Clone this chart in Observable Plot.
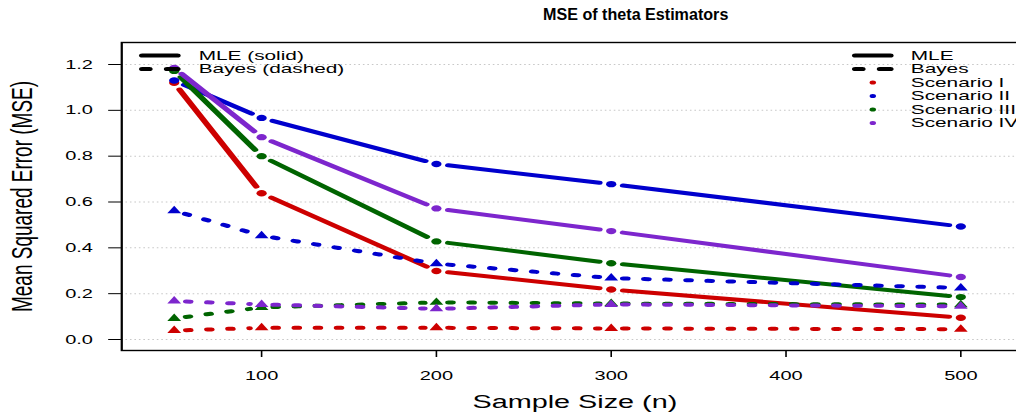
<!DOCTYPE html>
<html>
<head>
<meta charset="utf-8">
<script src="https://cdn.jsdelivr.net/npm/d3@7"></script>
<script src="https://cdn.jsdelivr.net/npm/@observablehq/plot@0.6"></script>
<style>
  html, body { margin: 0; padding: 0; overflow: hidden; background: #fff; }
  /* the figure is drawn narrow and widened horizontally */
  #chart svg { display: block; transform: scaleX(1.6); transform-origin: 0 0; }
</style>
</head>
<body>
<div id="chart"></div>
<script>
// Sample sizes and MSE of the two estimators under four scenarios
const sampleSizes = [50, 100, 200, 300, 500];
const scenarios = ["Scenario I", "Scenario II", "Scenario III", "Scenario IV"];
const scenarioColors = ["#CD0000", "#0000CD", "#006400", "#7D26CD"];

const mleI   = [1.120, 0.638, 0.299, 0.218, 0.095];
const mleII  = [1.130, 0.967, 0.766, 0.678, 0.493];
const mleIII = [1.172, 0.800, 0.428, 0.333, 0.185];
const mleIV  = [1.185, 0.883, 0.572, 0.473, 0.273];

const bayesI   = [0.039, 0.051, 0.051, 0.048, 0.045];
const bayesII  = [0.562, 0.453, 0.331, 0.268, 0.225];
const bayesIII = [0.092, 0.140, 0.162, 0.157, 0.152];
const bayesIV  = [0.168, 0.153, 0.134, 0.153, 0.145];

const xTicks = [100, 200, 300, 400, 500];
const yTicks = [0, 0.2, 0.4, 0.6, 0.8, 1.0, 1.2];

const title = "MSE of theta Estimators";
const xLabel = "Sample Size (n)";
const yLabel = "Mean Squared Error (MSE)";
const methodLegend = ["MLE (solid)", "Bayes (dashed)"];
const keyLegend = ["MLE", "Bayes"];

const mleSeries = [mleI, mleII, mleIII, mleIV];
const bayesSeries = [bayesI, bayesII, bayesIII, bayesIV];

// long-format points and consecutive segments for each series
function toPoints(seriesList) {
  return seriesList.flatMap((vals, s) =>
    sampleSizes.map((n, i) => ({n, v: vals[i], scenario: scenarios[s]})));
}
function toSegments(seriesList) {
  return seriesList.flatMap((vals, s) =>
    d3.pairs(sampleSizes.map((n, i) => ({n, v: vals[i]})))
      .map(([a, b]) => ({x1: a.n, y1: a.v, x2: b.n, y2: b.v, scenario: scenarios[s]})));
}
const mlePoints = toPoints(mleSeries);
const bayesPoints = toPoints(bayesSeries);
const mleSegments = toSegments(mleSeries);
const bayesSegments = toSegments(bayesSeries);

const lineWidth = 4;
const gap = 7.5;
const dash = "2.6,10.6";

// legend line samples drawn as symbols
const solidSample = {draw(ctx) { ctx.moveTo(-11, 0); ctx.lineTo(11, 0); }};
const dashedSample = {draw(ctx) { ctx.moveTo(-11, 0); ctx.lineTo(-6.5, 0); ctx.moveTo(4.5, 0); ctx.lineTo(11, 0); }};

const rowTop = 13, rowStep = 13.5;
const legendFont = 13;

const marks = [
  Plot.ruleY(yTicks, {stroke: "#c8c8c8", strokeWidth: 1, strokeDasharray: "1,1.8"}),
  // MLE: solid lines with gaps around filled circles
  Plot.arrow(mleSegments, {x1: "x1", y1: "y1", x2: "x2", y2: "y2", stroke: "scenario",
    strokeWidth: lineWidth, headLength: 0, insetStart: gap, insetEnd: gap, strokeLinecap: "round"}),
  Plot.dot(mlePoints, {x: "n", y: "v", fill: "scenario", r: 3.2, symbol: "circle"}),
  // Bayes: dashed lines with gaps around filled triangles
  Plot.arrow(bayesSegments, {x1: "x1", y1: "y1", x2: "x2", y2: "y2", stroke: "scenario",
    strokeWidth: lineWidth, headLength: 0, insetStart: gap, insetEnd: gap,
    strokeDasharray: dash, strokeLinecap: "round"}),
  Plot.dot(bayesPoints, {x: "n", y: "v", fill: "scenario", r: 3.2, symbol: "triangle"}),
  Plot.frame({stroke: "black", strokeWidth: 1.4}),
  // titles
  Plot.text([title], {text: d => d, frameAnchor: "top", lineAnchor: "middle", dx: 39, dy: -28,
    fontSize: 16, fontWeight: "bold"}),
  Plot.text([xLabel], {text: d => d, frameAnchor: "bottom", lineAnchor: "middle", dx: 1, dy: 51.5, fontSize: 18}),
  Plot.text([yLabel], {text: d => d, frameAnchor: "left", textAnchor: "middle", lineAnchor: "middle",
    dx: -62.4, dy: 0, rotate: -90, fontSize: 19})
];

// legend at top-left: line style per method
[solidSample, dashedSample].forEach((sym, i) => {
  marks.push(Plot.dot([0], {frameAnchor: "top-left", dx: 23.8, dy: rowTop + i * rowStep,
    symbol: sym, fill: "none", stroke: "black", strokeWidth: lineWidth, strokeLinecap: "round"}));
  marks.push(Plot.text([methodLegend[i]], {text: d => d, frameAnchor: "top-left", dx: 48.1,
    dy: rowTop + i * rowStep, textAnchor: "start", lineAnchor: "middle", fontSize: legendFont}));
});

// legend at top-right: line styles then scenario colours
[solidSample, dashedSample].forEach((sym, i) => {
  marks.push(Plot.dot([0], {frameAnchor: "top-right", dx: -95, dy: rowTop + i * rowStep,
    symbol: sym, fill: "none", stroke: "black", strokeWidth: lineWidth, strokeLinecap: "round"}));
  marks.push(Plot.text([keyLegend[i]], {text: d => d, frameAnchor: "top-right", dx: -71.25,
    dy: rowTop + i * rowStep, textAnchor: "start", lineAnchor: "middle", fontSize: legendFont}));
});
scenarios.forEach((name, i) => {
  marks.push(Plot.dot([name], {frameAnchor: "top-right", dx: -95, dy: rowTop + (i + 2) * rowStep,
    fill: d => d, r: 2}));
  marks.push(Plot.text([name], {text: d => d, frameAnchor: "top-right", dx: -71.25,
    dy: rowTop + (i + 2) * rowStep, textAnchor: "start", lineAnchor: "middle", fontSize: legendFont}));
});

const chart = Plot.plot({
  width: 640,
  height: 414,
  marginLeft: 75.6,
  marginRight: 0,
  marginTop: 42,
  marginBottom: 64,
  style: {fontFamily: "'Liberation Sans', Arial, Helvetica, sans-serif", fontSize: "12.5px",
    background: "white", color: "black"},
  x: {domain: [20, 536.6], ticks: xTicks, tickSize: 7, tickPadding: 13.5, label: null, tickFormat: d => String(d)},
  y: {domain: [-0.048, 1.296], ticks: yTicks, tickSize: 8, tickPadding: 10, label: null, tickFormat: ".1f"},
  color: {domain: scenarios, range: scenarioColors},
  marks
});

// the title keeps a narrower set than the widened figure
d3.select(chart).selectAll("text")
  .filter(function() { return this.textContent === title; })
  .attr("transform", function() { return (this.getAttribute("transform") || "") + " scale(0.63,1)"; });

document.getElementById("chart").append(chart);
</script>
</body>
</html>
